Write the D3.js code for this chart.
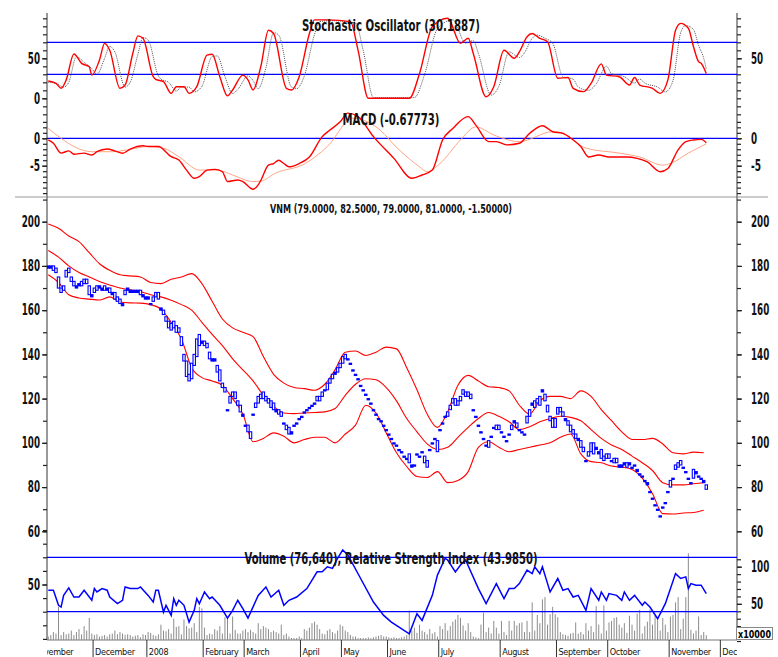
<!DOCTYPE html>
<html>
<head>
<meta charset="utf-8">
<script src="https://cdn.jsdelivr.net/npm/d3@7"></script>
<style>
body { margin: 0; background: #fff; }
svg text { font-family: "Liberation Sans Narrow", "DejaVu Sans Condensed", "Liberation Sans", sans-serif; }
</style>
</head>
<body>
<svg id="chart" width="778" height="657"></svg>
<script>
// ---- trading-day data (index 0 = first bar on the chart) ----
let monthNames = ["November", "December", "2008", "February", "March", "April", "May", "June",
    "July", "August", "September", "October", "November", "December"];
let monthStart = [-6, 18, 39, 61, 77, 99, 115, 133, 153, 177, 199, 219, 243, 263];

let closes = [
    180, 179, 180, 177, 170, 168, 171, 178, 177, 173,
    171, 171, 172, 171, 174, 172, 167, 167, 170, 171,
    170, 170, 169, 170, 168, 168, 165, 164, 163, 163,
    169, 169, 168, 169, 168, 169, 167, 166, 166, 165,
    163, 166, 168, 165, 160, 158, 155, 152, 154, 152,
    150, 152, 144, 137, 130, 128, 136, 140, 147, 144,
    145, 144, 143, 138, 138, 137, 132, 128, 125, 123,
    115, 121, 123, 120, 117, 114, 112, 108, 105, 102,
    113, 118, 121, 122, 120, 119, 118, 116, 115, 114,
    113, 112, 109, 106, 104, 105, 108, 109, 111, 112,
    114, 115, 116, 117, 118, 119, 121, 123, 124, 127,
    129, 131, 132, 134, 136, 139, 140, 138, 136, 133,
    131, 129, 126, 124, 122, 120, 118, 115, 113, 111,
    110, 108, 106, 104, 102, 100, 99, 97, 96, 94,
    93, 91, 90, 90, 95, 94, 96, 91, 92, 97,
    100, 102, 101, 106, 109, 112, 114, 117, 120, 117,
    119, 121, 122, 123, 121, 120, 115, 112, 108, 105,
    102, 99, 98, 103, 107, 108, 106, 105, 103, 101,
    104, 108, 109, 107, 106, 105, 104, 112, 115, 117,
    119, 118, 121, 123, 122, 114, 112, 107, 111, 116,
    114, 112, 110, 108, 105, 104, 102, 101, 98, 96,
    92, 96, 100, 95, 97, 96, 93, 94, 95, 93,
    92, 93, 91, 90, 89, 90, 91, 90, 89, 90,
    87, 86, 85, 83, 81, 78, 75, 72, 70, 67,
    71, 73, 78, 80, 84, 90, 91, 90, 89, 87,
    84, 82, 88, 86, 85, 84, 82, 81];

let opens = [
    179, 180, 178, 179, 175, 170, 169, 175, 179, 175,
    173, 170, 171, 173, 172, 174, 171, 166, 168, 169,
    171, 169, 171, 169, 170, 167, 168, 166, 165, 162,
    167, 170, 169, 168, 169, 168, 169, 167, 165, 166,
    163, 164, 166, 168, 161, 160, 157, 155, 151, 155,
    153, 150, 148, 140, 137, 131, 129, 135, 139, 149,
    146, 146, 145, 141, 137, 138, 135, 133, 127, 125,
    115, 118, 121, 123, 119, 117, 113, 108, 108, 105,
    113, 116, 118, 120, 123, 121, 120, 119, 118, 115,
    115, 114, 109, 108, 107, 104, 108, 109, 111, 112,
    114, 115, 116, 117, 118, 121, 119, 121, 124, 124,
    127, 129, 131, 132, 134, 136, 138, 138, 136, 133,
    131, 129, 126, 124, 122, 120, 118, 115, 113, 111,
    110, 108, 106, 104, 102, 100, 99, 97, 96, 94,
    93, 95, 89, 90, 95, 94, 96, 94, 89, 97,
    100, 102, 96, 106, 109, 112, 112, 115, 118, 120,
    117, 119, 124, 121, 123, 122, 115, 112, 108, 105,
    102, 99, 101, 103, 107, 106, 108, 105, 103, 101,
    104, 106, 110, 109, 106, 105, 104, 109, 112, 118,
    116, 120, 117, 124, 119, 117, 110, 111, 107, 113,
    116, 114, 111, 110, 108, 106, 104, 102, 101, 98,
    92, 94, 96, 100, 98, 95, 97, 92, 93, 95,
    92, 91, 93, 89, 90, 91, 89, 91, 89, 90,
    88, 86, 85, 83, 82, 78, 75, 72, 70, 67,
    71, 73, 78, 83, 84, 88, 89, 92, 89, 87,
    84, 82, 84, 87, 85, 84, 83, 79];

// volume in units of 10000 shares
let volumes = [
    6, 8, 12, 10, 46, 8, 12, 9, 10, 14,
    8, 12, 16, 9, 20, 14, 31, 10, 8, 9,
    6, 7, 8, 6, 9, 10, 14, 9, 12, 10,
    8, 9, 8, 6, 7, 8, 5, 9, 8, 12,
    11, 8, 7, 9, 22, 14, 13, 16, 10, 30,
    19, 20, 9, 29, 20, 17, 18, 24, 12, 46,
    44, 18, 8, 10, 9, 16, 14, 20, 10, 32,
    32, 10, 33, 15, 10, 10, 14, 16, 12, 15,
    12, 10, 24, 16, 20, 18, 16, 12, 14, 12,
    10, 22, 8, 10, 6, 4, 4, 4, 6, 4,
    16, 14, 18, 24, 26, 22, 16, 10, 9, 14,
    16, 12, 10, 14, 22, 20, 14, 12, 8, 6,
    6, 4, 4, 4, 4, 5, 4, 5, 6, 7,
    8, 6, 6, 5, 4, 5, 4, 4, 5, 6,
    8, 41, 14, 18, 11, 22, 14, 12, 9, 16,
    10, 12, 6, 20, 16, 24, 14, 20, 26, 29,
    35, 31, 21, 14, 24, 12, 6, 5, 4, 22,
    38, 12, 18, 10, 27, 18, 10, 27, 12, 8,
    27, 14, 27, 21, 24, 25, 12, 27, 12, 52,
    14, 35, 24, 56, 59, 22, 36, 46, 36, 32,
    12, 9, 8, 7, 10, 11, 25, 10, 12, 9,
    24, 14, 20, 12, 47, 22, 10, 48, 14, 25,
    27, 31, 32, 22, 18, 24, 11, 34, 22, 14,
    37, 42, 10, 20, 26, 42, 22, 34, 28, 14,
    31, 22, 12, 33, 35, 52, 59, 16, 30, 59,
    118, 15, 10, 14, 33, 8, 12, 7.7];

// Bollinger bands, read every 4th trading day
let bandUpper = [199, 197, 193.5, 191, 186, 181, 178, 176, 175.5, 175, 172.5, 172, 174, 175, 176.5, 172,
    164, 156, 152, 150, 148, 139, 131, 127, 125, 124.5, 123.8, 126.5, 133, 141, 141.5, 139.5, 141,
    143.3, 142.5, 134, 124, 113, 107, 114, 126, 130.5, 128, 125.4, 125, 123.5, 117, 113, 119, 121,
    121, 120, 123.5, 121, 115, 110, 105, 101.5, 101.5, 102, 99.5, 95.5, 95, 95.8, 95.5];
let bandMiddle = [187, 184, 180, 177, 175, 173, 171.4, 170, 169.2, 168.3, 167, 166, 164.5, 162.5, 160, 154.5,
    149, 144, 138, 133, 128, 121.5, 116.5, 113.5, 113.2, 113.5, 113.7, 114, 115.5, 121.5, 126.5, 129, 128.5,
    125, 119, 111, 105, 99.5, 97, 98, 102.5, 107, 111, 113.7, 112, 109.5, 106, 107.3, 109.5, 111,
    112, 111.5, 110, 106, 102, 99, 97, 94, 91, 87.5, 82, 81, 81, 81.5, 82];
let bandLower = [176, 172.5, 167, 165.5, 165, 164.6, 166, 163.7, 163.3, 163.2, 162.5, 160.5, 154.5, 147, 134, 129.5,
    128, 126, 120, 113, 100.5, 102, 104.5, 103, 100, 101.5, 102.5, 102.5, 100, 104, 108, 117, 113.5,
    104.5, 95.5, 89.3, 84.8, 84.3, 87, 82, 83, 87, 98, 100.5, 98, 96, 97, 98, 99, 100,
    102.5, 104, 95, 91.5, 91, 89.5, 89, 88, 84, 77, 68, 67.8, 68.3, 68.5, 69.5];

// stochastic %K (red) and %D (dotted), turning points
let stochKDays = [0, 3, 5, 7, 10, 13, 16, 17, 20, 22, 24, 28, 30, 33, 35, 37, 41, 42, 45, 48, 50, 53, 55, 58, 62,
    64, 67, 70, 72, 76, 78, 80, 83, 86, 88, 93, 95, 98, 102, 104, 109, 118, 121, 125, 141, 145, 150, 156, 161,
    164, 166, 171, 174, 178, 182, 184, 187, 189, 192, 195, 199, 203, 205, 209, 212, 216, 218, 223, 227, 229,
    231, 236, 239, 242, 245, 247, 250, 252, 254, 255, 257];
let stochK = [21.6, 18.7, 12.5, 23, 55.4, 43.7, 39.5, 29, 48, 68.7, 60, 12.5, 16.6, 56, 78, 75, 27, 23.7, 20.8,
    6.2, 14.5, 14.5, 6.2, 14.5, 54, 55, 27, 3, 10.4, 29, 23, 10.4, 39.5, 85, 81, 12.5, 10.4, 27, 81, 98, 98,
    95.8, 60, 0, 0, 31, 89.5, 100, 68.7, 75, 56, 2, 14.5, 60, 50, 58, 77, 81, 75, 70.8, 25, 26, 12.5, 8.3,
    18.7, 43, 29, 27, 16.6, 26, 16.6, 12.5, 6.2, 23, 85, 93.7, 87.5, 64.5, 45.8, 43.7, 31];
let stochDDays = [0, 3, 6, 8, 11, 14, 17, 19, 22, 24, 26, 30, 32, 35, 37, 39, 43, 44, 47, 50, 52, 55, 57, 60, 64,
    66, 69, 72, 74, 78, 80, 82, 85, 88, 90, 95, 97, 100, 104, 106, 111, 120, 123, 127, 143, 147, 152, 158, 163,
    166, 168, 173, 176, 180, 184, 186, 189, 191, 194, 197, 201, 205, 207, 211, 214, 218, 220, 225, 229, 231,
    233, 238, 241, 244, 247, 249, 252, 254, 256, 257];
let stochD = [20, 19, 14, 20, 52, 45, 37, 30, 50, 65, 58, 14, 20, 55, 76, 73, 28, 24, 20, 9, 14, 14, 8, 15, 52,
    53, 27, 6, 11, 28, 22, 12, 38, 82, 79, 14, 12, 28, 80, 96, 97, 94, 60, 1, 1, 30, 87, 98, 69, 72, 56, 4,
    15, 58, 51, 57, 75, 79, 75, 69, 27, 24, 14, 10, 18, 40, 31, 27, 19, 24, 19, 14, 8, 22, 82, 91, 86, 66,
    50, 37];

// MACD line (red) and signal line (salmon)
let macdDays = [0, 2, 5, 8, 10, 14, 17, 19, 23, 26, 29, 32, 37, 39, 43, 48, 51, 54, 57, 59, 62, 65, 68, 70, 74,
    76, 80, 82, 83, 86, 88, 90, 92, 94, 98, 102, 107, 110, 114, 117, 121, 127, 135, 142, 146, 150, 154, 158,
    164, 167, 172, 175, 179, 184, 188, 193, 197, 201, 205, 208, 211, 215, 219, 226, 230, 234, 239, 242, 246,
    249, 252, 255, 257];
let macdLine = [-0.3, -0.9, -2.7, -2.3, -2.9, -2.7, -3.05, -2.45, -1.96, -2.3, -2.74, -1.96, -1.35, -1.5, -1.5,
    -3.36, -3.97, -5.8, -7.3, -7.0, -5.8, -5.67, -6.1, -7.9, -7.6, -7.9, -9.3, -8.5, -7.7, -4.9, -4.6, -4.0,
    -4.6, -5.2, -4.6, -3.4, 0.3, 1.5, 3.0, 4.6, 3.95, 0.3, -3.66, -7.3, -6.7, -5.8, -0.3, 1.8, 3.95, 2.4,
    -0.6, -0.6, -1.2, -0.9, 0.9, 2.3, 1.2, 0.9, -0.3, -1.5, -3.4, -3.05, -3.4, -3.4, -3.66, -4.3, -6.1, -5.5,
    -2.1, -0.6, -0.3, -0.2, -0.8];
let signalDays = [0, 5, 10, 17, 25, 31, 39, 45, 51, 59, 66, 72, 80, 83, 89, 100, 109, 119, 128, 137, 145, 148,
    153, 161, 167, 174, 184, 197, 201, 210, 223, 231, 240, 243, 250, 257];
let signalLine = [1.8, 0, -1.5, -2.45, -2.45, -2.1, -1.5, -1.8, -3.36, -5.8, -5.8, -6.7, -7.9, -7.8, -6.3, -4.7,
    -1.5, 3.66, 2.1, -2.1, -5.2, -6.1, -4.6, -0.3, 2.1, 0.6, -0.6, 1.2, 0.9, -1.8, -2.7, -3.4, -4.9, -4.6,
    -2.7, -1.0];

// relative strength index
let rsiDays = [0, 2, 4, 5, 6, 8, 10, 12, 14, 17, 18, 19, 21, 23, 24, 27, 29, 30, 32, 35, 36, 39, 41, 42, 43, 45,
    46, 48, 49, 50, 51, 53, 55, 57, 58, 59, 61, 63, 64, 67, 70, 72, 74, 76, 78, 82, 85, 87, 90, 92, 94, 97,
    101, 105, 107, 109, 111, 113, 115, 117, 122, 127, 131, 134, 137, 141, 144, 146, 150, 152, 155, 156, 159,
    161, 163, 168, 171, 175, 178, 180, 182, 184, 187, 189, 190, 192, 193, 196, 199, 201, 203, 205, 207, 210,
    212, 215, 216, 218, 219, 222, 224, 225, 227, 229, 232, 233, 235, 238, 241, 245, 247, 249, 250, 251, 253,
    255, 257];
let rsiVals = [45.8, 45.8, 34.7, 33.4, 42, 47.5, 40.8, 40.8, 45.8, 38.4, 47, 44.5, 47, 45.8, 40.8, 35.9, 38.4,
    48.2, 47, 47, 48.2, 42, 37.1, 45.8, 45.8, 29.7, 34.7, 27.3, 39.6, 34.7, 38.4, 34.7, 22.3, 31, 39.6, 35.9,
    44.5, 39.6, 40.8, 34.7, 25.3, 31, 38.4, 32.2, 25.3, 42, 48.2, 40.8, 45.8, 34.7, 38.4, 40.8, 47, 59.3,
    59.3, 63, 61.8, 69.3, 75.4, 71.7, 54.4, 37.1, 27.3, 22.3, 18.6, 13.7, 28.5, 23.6, 42, 56.9, 69.3, 68,
    59.3, 64.3, 68, 47, 35.9, 50.7, 39.6, 47, 47, 50.7, 60.6, 58, 63, 58, 63, 44.5, 54.4, 45.8, 47, 40.8,
    42, 31, 47, 38.4, 44.5, 38.4, 43.3, 42, 38.4, 44.5, 38.4, 42, 34.7, 37.1, 33.4, 24.8, 35.9, 58, 54.4,
    55.6, 47, 50.7, 49.5, 49.5, 43.3];

let stochLevels = [70, 30];
let rsiLevels = [70, 30];

// ---- layout ----
let plotLeft = 47, plotRight = 737;
let topY = 13, sepY = 197, priceBottom = 548, volBottom = 640;
let fontStack = '"Liberation Sans Narrow", "DejaVu Sans Condensed", sans-serif';

let svg = d3.select("#chart");
let xs = d3.scaleLinear().domain([-0.5, 269]).range([plotLeft, plotRight]);
let stochY = d3.scaleLinear().domain([0, 50]).range([98.3, 58.3]);
let macdY = d3.scaleLinear().domain([0, -5]).range([138.3, 165.7]);
let priceY = d3.scaleLinear().domain([60, 200]).range([531.3, 221.7]);
let rsiY = d3.scaleLinear().domain([30, 70]).range([611.7, 557.3]);
let volY = d3.scaleLinear().domain([0, 100]).range([641, 566.7]);

drawFrame();
drawAxes();
drawOscillators();
drawPrice();
drawVolumeRsi();
drawTitles();

/**
 * Separator lines, axis spines and clip areas
 */
function drawFrame() {
    let defs = svg.append("defs");
    defs.append("clipPath").attr("id", "clipPrice").append("rect")
        .attr("x", plotLeft).attr("y", sepY).attr("width", plotRight - plotLeft).attr("height", priceBottom - sepY);
    defs.append("clipPath").attr("id", "clipVol").append("rect")
        .attr("x", plotLeft).attr("y", priceBottom).attr("width", plotRight - plotLeft).attr("height", volBottom - priceBottom);
    defs.append("clipPath").attr("id", "clipMonths").append("rect")
        .attr("x", plotLeft).attr("y", volBottom).attr("width", plotRight - plotLeft).attr("height", 30);

    svg.append("line") // separator between oscillators and price
        .attr("x1", 15).attr("x2", 768).attr("y1", sepY).attr("y2", sepY)
        .style("stroke", "#999").style("stroke-width", 1);

    [plotLeft, plotRight].forEach(x => {
        svg.append("line")
            .attr("x1", x).attr("x2", x).attr("y1", topY).attr("y2", volBottom)
            .style("stroke", "#777").style("stroke-width", 1.5);
    });
    svg.append("line")
        .attr("x1", plotLeft).attr("x2", plotRight).attr("y1", volBottom).attr("y2", volBottom)
        .style("stroke", "#777").style("stroke-width", 1.2);
}

/**
 * Squeeze a label to the narrow width used by the original font
 */
function narrowLabel(sel, perChar) {
    sel.each(function () {
        let s = this.textContent;
        if (!s) { return; }
        let w = 0;
        for (let ch of s) { w += (ch === "-") ? perChar * 0.65 : perChar; }
        d3.select(this).attr("textLength", w).attr("lengthAdjust", "spacingAndGlyphs");
    });
}

/**
 * Add minor + labelled ticks on one side
 */
function addTicks(scale, side, minorVals, majorVals) {
    let x = side === "left" ? plotLeft : plotRight;
    let mk = side === "left" ? d3.axisLeft : d3.axisRight;
    let gMinor = svg.append("g").attr("transform", "translate(" + x + ",0)")
        .call(mk(scale).tickValues(minorVals).tickSize(4).tickFormat(""));
    let gMajor = svg.append("g").attr("transform", "translate(" + x + ",0)")
        .call(mk(scale).tickValues(majorVals).tickSize(5).tickPadding(side === "left" ? 2 : 9)
            .tickFormat(d => String(d)));
    [gMinor, gMajor].forEach(g => {
        g.select(".domain").remove();
        g.selectAll("line").style("stroke", "#222").style("stroke-width", 1.2);
        g.selectAll("text")
            .style("font-family", fontStack)
            .style("font-weight", "bold")
            .style("font-size", "15px")
            .style("fill", "#111");
    });
    narrowLabel(gMajor.selectAll("text"), 6.1);
}

function drawAxes() {
    addTicks(stochY, "left", d3.range(-20, 101, 10), [0, 50]);
    addTicks(stochY, "right", d3.range(-20, 101, 10), [50]);
    addTicks(macdY, "left", d3.range(-10, 4, 1), [0, -5]);
    addTicks(macdY, "right", d3.range(-10, 4, 1), [0, -5]);
    addTicks(priceY, "left", d3.range(60, 211, 10), d3.range(60, 201, 20));
    addTicks(priceY, "right", d3.range(60, 211, 10), d3.range(60, 201, 20));
    addTicks(rsiY, "left", d3.range(10, 91, 10), [50]);
    addTicks(volY, "right", d3.range(0, 111, 10), [50, 100]);

    // month separators and names along the bottom
    let gm = svg.append("g");
    monthStart.forEach((d, i) => {
        let x = xs(d - 0.5);
        if (x > plotLeft && x < plotRight) {
            gm.append("line").attr("x1", x).attr("x2", x).attr("y1", volBottom).attr("y2", 657)
                .style("stroke", "#333").style("stroke-width", 1);
        }
        gm.append("text")
            .attr("clip-path", "url(#clipMonths)")
            .attr("x", x + 2).attr("y", 654.5)
            .style("font-family", fontStack)
            .style("font-size", "9px")
            .style("letter-spacing", "-0.3px")
            .style("fill", "#111")
            .text(monthNames[i]);
    });

    // volume multiplier box
    svg.append("rect").attr("x", 736.5).attr("y", 627.5).attr("width", 36).attr("height", 12)
        .style("fill", "#fff").style("stroke", "#888");
    svg.append("text").attr("x", 738).attr("y", 637.5)
        .attr("textLength", 33).attr("lengthAdjust", "spacingAndGlyphs")
        .style("font-family", fontStack).style("font-weight", "bold").style("font-size", "11px")
        .text("x10000");
}

/**
 * Blue reference line across the plot
 */
function hLine(y) {
    svg.append("line").attr("x1", plotLeft).attr("x2", plotRight).attr("y1", y).attr("y2", y)
        .style("stroke", "#0000ff").style("stroke-width", 1.3);
}

function drawOscillators() {
    stochLevels.forEach(v => hLine(stochY(v)));
    hLine(macdY(0));

    let curve = d3.curveMonotoneX;
    svg.append("path")
        .datum(stochDDays.map((d, i) => [d, stochD[i]]))
        .attr("d", d3.line().x(p => xs(p[0])).y(p => stochY(p[1])).curve(curve))
        .style("fill", "none").style("stroke", "#555").style("stroke-width", 1)
        .style("stroke-dasharray", "1,1");
    svg.append("path")
        .datum(stochKDays.map((d, i) => [d, stochK[i]]))
        .attr("d", d3.line().x(p => xs(p[0])).y(p => stochY(p[1])).curve(curve))
        .style("fill", "none").style("stroke", "#ff0000").style("stroke-width", 1.4);

    svg.append("path")
        .datum(signalDays.map((d, i) => [d, signalLine[i]]))
        .attr("d", d3.line().x(p => xs(p[0])).y(p => macdY(p[1])).curve(curve))
        .style("fill", "none").style("stroke", "#ffa585").style("stroke-width", 1);
    svg.append("path")
        .datum(macdDays.map((d, i) => [d, macdLine[i]]))
        .attr("d", d3.line().x(p => xs(p[0])).y(p => macdY(p[1])).curve(curve))
        .style("fill", "none").style("stroke", "#ff0000").style("stroke-width", 1.4);
}

function drawPrice() {
    let g = svg.append("g").attr("clip-path", "url(#clipPrice)");
    let bandDays = d3.range(0, 257, 4);
    [bandUpper, bandMiddle, bandLower].forEach(band => {
        g.append("path")
            .datum(bandDays.map((d, i) => [d, band[i]]))
            .attr("d", d3.line().x(p => xs(p[0])).y(p => priceY(p[1])).curve(d3.curveMonotoneX))
            .style("fill", "none").style("stroke", "#ff0000").style("stroke-width", 1.1);
    });

    // candle bodies: hollow blue boxes, tiny ones become dots
    for (let i = 0; i < closes.length; i++) {
        let o = opens[i], c = closes[i];
        let yTop = priceY(Math.max(o, c));
        let h = Math.abs(priceY(o) - priceY(c));
        g.append("rect")
            .attr("x", xs(i) - 1.2).attr("y", yTop)
            .attr("width", 2.4).attr("height", Math.max(1.2, h))
            .style("fill", h < 3 ? "#0000ff" : "#fff")
            .style("stroke", "#0000ff").style("stroke-width", 1.1);
    }
}

function drawVolumeRsi() {
    let g = svg.append("g").attr("clip-path", "url(#clipVol)");
    for (let i = 0; i < volumes.length; i++) {
        g.append("line")
            .attr("x1", xs(i)).attr("x2", xs(i))
            .attr("y1", volBottom).attr("y2", volY(volumes[i]))
            .style("stroke", "#8c8c8c").style("stroke-width", 1);
    }
    rsiLevels.forEach(v => hLine(rsiY(v)));
    g.append("path")
        .datum(rsiDays.map((d, i) => [d, rsiVals[i]]))
        .attr("d", d3.line().x(p => xs(p[0])).y(p => rsiY(p[1])))
        .style("fill", "none").style("stroke", "#0000ff").style("stroke-width", 1.5);
}

/**
 * Panel captions, stretched to the widths seen in the original
 */
function drawTitles() {
    let titles = [
        { text: "Stochastic Oscillator (30.1887)", y: 30.5, size: 15, w: 178 },
        { text: "MACD (-0.67773)", y: 125, size: 15, w: 97 },
        { text: "VNM (79.0000, 82.5000, 79.0000, 81.0000, -1.50000)", y: 212.5, size: 12.5, w: 242 },
        { text: "Volume (76,640), Relative Strength Index (43.9850)", y: 564, size: 15, w: 293 }
    ];
    titles.forEach(t => {
        svg.append("text")
            .attr("x", 391).attr("y", t.y)
            .attr("text-anchor", "middle")
            .attr("textLength", t.w).attr("lengthAdjust", "spacingAndGlyphs")
            .style("font-family", fontStack).style("font-weight", "bold")
            .style("font-size", t.size + "px").style("fill", "#111")
            .text(t.text);
    });
}
</script>
</body>
</html>
